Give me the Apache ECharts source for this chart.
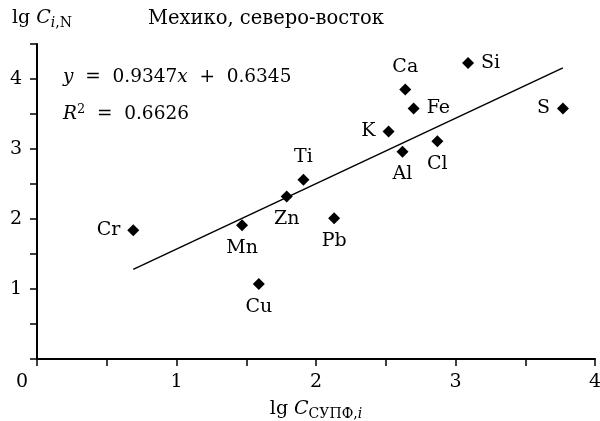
<!DOCTYPE html>
<html lang="ru">
<head>
    <meta charset="UTF-8">
    <title>Мехико, северо-восток</title>
    <script src="https://cdn.jsdelivr.net/npm/echarts@6/dist/echarts.min.js"></script>
</head>
<style>
    body{
        margin: 0;
        padding: 0;
    }
</style>
<body>
<div id="main" style="width: 600px;height:421px;"></div>
<script>
    // элементы и их координаты
    var elements = ['Cr', 'Mn', 'Cu', 'Zn', 'Ti', 'Pb', 'K', 'Al', 'Ca', 'Fe', 'Cl', 'Si', 'S'];
    var xValues = [0.69, 1.47, 1.59, 1.79, 1.91, 2.13, 2.52, 2.62, 2.64, 2.70, 2.87, 3.09, 3.77];
    var yValues = [1.84, 1.91, 1.07, 2.32, 2.56, 2.01, 3.25, 2.96, 3.85, 3.58, 3.11, 4.23, 3.58];
    // линия тренда y = 0.9347x + 0.6345
    var trendX = [0.69, 3.77];
    var trendY = [1.2795, 4.1583];
    var xTicks = [0, 1, 2, 3, 4];
    var yTicks = [1, 2, 3, 4];

    var font = 'DejaVu Serif';
    var labelPos = {
        Cr: 'left', Mn: 'bottom', Cu: 'bottom', Zn: 'bottom', Ti: 'top', Pb: 'bottom',
        K: 'left', Al: 'bottom', Ca: 'top', Fe: 'right', Cl: 'bottom', Si: 'right', S: 'left'
    };

    var points = [];
    for (var i = 0; i < elements.length; i++) {
        points.push({
            name: elements[i],
            value: [xValues[i], yValues[i]],
            label: {position: labelPos[elements[i]]}
        });
    }

    var chart = echarts.init(document.getElementById('main'));
    var option = {
        animation: false,
        backgroundColor: '#fff',
        grid: {left: 37, right: 5, top: 44, bottom: 62, containLabel: false, outerBoundsMode: 'none'},
        xAxis: {
            type: 'value',
            min: 0, max: 4, interval: 0.5,
            splitLine: {show: false},
            axisLine: {lineStyle: {color: '#000', width: 2}},
            axisTick: {length: 7, lineStyle: {color: '#000', width: 1.5}},
            axisLabel: {
                color: '#000', fontFamily: font, fontSize: 19, margin: 14,
                formatter: function (v) {
                    return (v > 0 && xTicks.indexOf(v) >= 0) ? String(v) : '';
                }
            },
            name: '{n|lg }{it|C}{sub|СУПФ,}{subi|i}',
            nameLocation: 'middle',
            nameGap: 39,
            nameTextStyle: {
                color: '#000', fontFamily: font, fontSize: 19,
                rich: {
                    n: {fontFamily: font, fontSize: 19, color: '#000'},
                    it: {fontFamily: font, fontSize: 19, fontStyle: 'italic', color: '#000'},
                    sub: {fontFamily: font, fontSize: 14, color: '#000', padding: [9, 0, 0, 0]},
                    subi: {fontFamily: font, fontSize: 14, fontStyle: 'italic', color: '#000', padding: [9, 0, 0, 0]}
                }
            }
        },
        yAxis: {
            type: 'value',
            min: 0, max: 4.5, interval: 0.5,
            splitLine: {show: false},
            axisLine: {lineStyle: {color: '#000', width: 2}},
            axisTick: {length: 7, lineStyle: {color: '#000', width: 1.5}},
            axisLabel: {
                color: '#000', fontFamily: font, fontSize: 19, margin: 15,
                formatter: function (v) {
                    return yTicks.indexOf(v) >= 0 ? String(v) : '';
                }
            }
        },
        graphic: [
            {
                type: 'text', left: 12, top: 9,
                style: {
                    text: '{n|lg }{it|C}{subi|i}{sub|,N}',
                    rich: {
                        n: {fontFamily: font, fontSize: 19, fill: '#000'},
                        it: {fontFamily: font, fontSize: 19, fontStyle: 'italic', fill: '#000'},
                        sub: {fontFamily: font, fontSize: 14, fill: '#000', padding: [9, 0, 0, 0]},
                        subi: {fontFamily: font, fontSize: 14, fontStyle: 'italic', fill: '#000', padding: [9, 0, 0, 0]}
                    }
                }
            },
            {
                type: 'text', left: 148, top: 9,
                style: {text: 'Мехико, северо-восток', font: '19.5px "DejaVu Serif"', fill: '#000'}
            },
            {
                type: 'text', left: 63, top: 68,
                style: {
                    text: '{it|y}  =  0.9347{it|x}  +  0.6345',
                    font: '18.5px "DejaVu Serif"', fill: '#000',
                    rich: {it: {fontFamily: font, fontSize: 18.5, fontStyle: 'italic', fill: '#000'}}
                }
            },
            {
                type: 'text', left: 63, top: 103,
                style: {
                    text: '{it|R}{sup|2}  =  0.6626',
                    font: '18.5px "DejaVu Serif"', fill: '#000',
                    rich: {
                        it: {fontFamily: font, fontSize: 18.5, fontStyle: 'italic', fill: '#000'},
                        sup: {fontFamily: font, fontSize: 13, fill: '#000', padding: [0, 0, 9, 0]}
                    }
                }
            },
            {
                type: 'text', left: 16, top: 373,
                style: {text: '0', font: '19px "DejaVu Serif"', fill: '#000'}
            }
        ],
        series: [
            {
                type: 'line',
                data: [[trendX[0], trendY[0]], [trendX[1], trendY[1]]],
                symbol: 'none',
                lineStyle: {color: '#000', width: 1.5},
                z: 1
            },
            {
                type: 'scatter',
                data: points,
                symbol: 'diamond',
                symbolSize: 12,
                itemStyle: {color: '#000', opacity: 1},
                label: {
                    show: true,
                    formatter: '{b}',
                    color: '#000',
                    fontFamily: font,
                    fontSize: 19,
                    distance: 7
                },
                z: 2
            }
        ]
    };
    chart.setOption(option);
</script>
</body>
</html>
